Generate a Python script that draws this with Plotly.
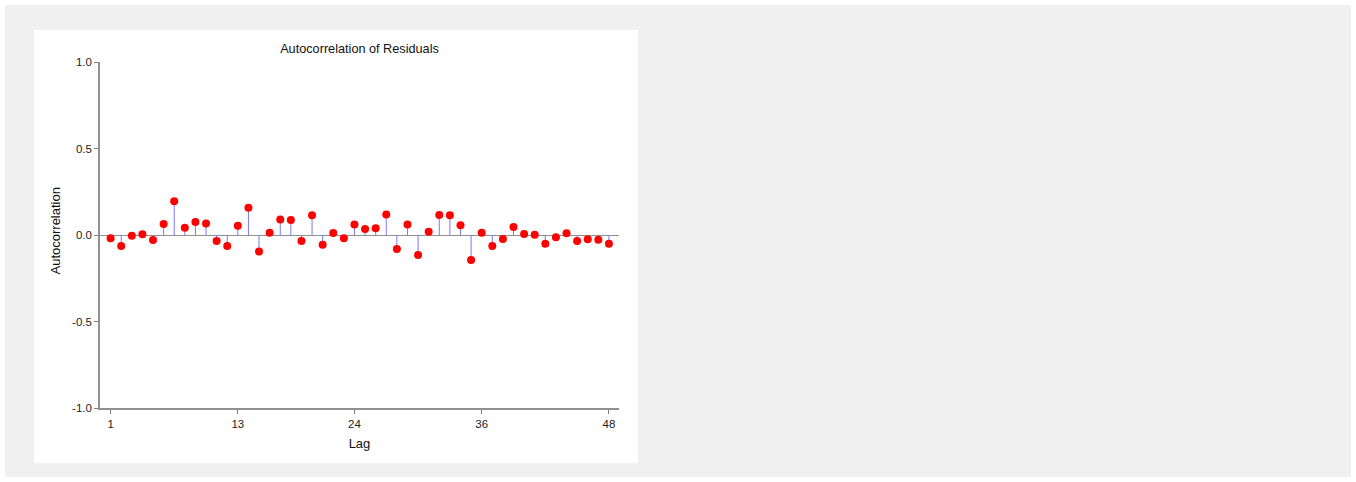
import plotly.graph_objects as go

# Residual autocorrelation by lag
lags = list(range(1, 49))
acf = [
    -0.019, -0.064, -0.004, 0.004, -0.029, 0.064, 0.195, 0.042, 0.075, 0.066,
    -0.035, -0.064, 0.054, 0.158, -0.096, 0.013, 0.089, 0.087, -0.035, 0.114,
    -0.056, 0.012, -0.019, 0.060, 0.035, 0.039, 0.118, -0.081, 0.060, -0.116,
    0.019, 0.115, 0.114, 0.056, -0.145, 0.013, -0.064, -0.023, 0.046, 0.006,
    0.002, -0.050, -0.013, 0.010, -0.035, -0.025, -0.027, -0.050,
]

x_tickvals = [1, 13, 24, 36, 48]
y_tickvals = [-1.0, -0.5, 0.0, 0.5, 1.0]
y_ticktext = ["-1.0", "-0.5", "0.0", "0.5", "1.0"]

# Stem segments: each lag goes from 0 up/down to its value
stem_x, stem_y = [], []
for lag, r in zip(lags, acf):
    stem_x += [lag, lag, None]
    stem_y += [0, r, None]

W, H = 1356, 482
L, R, T, B = 100, 619, 62, 408
pw, ph = R - L, B - T


def px(xp):
    return (xp - L) / pw


def py(yp):
    return (B - yp) / ph


fig = go.Figure()
fig.add_trace(go.Scatter(
    x=stem_x, y=stem_y, mode="lines",
    line=dict(color="#7878ff", width=1),
    hoverinfo="skip", showlegend=False,
))
fig.add_trace(go.Scatter(
    x=lags, y=acf, mode="markers",
    marker=dict(color="#ff0000", size=8, line=dict(width=0)),
    showlegend=False,
))

font = "Liberation Sans, Arial, sans-serif"

fig.update_layout(
    width=W, height=H,
    margin=dict(l=L, r=W - R, t=T, b=H - B, pad=0),
    paper_bgcolor="white",
    plot_bgcolor="rgba(0,0,0,0)",
    font=dict(family=font, size=11.5, color="#222222"),
    title=dict(
        text="Autocorrelation of Residuals",
        font=dict(family=font, size=12.7, color="#111111"),
        xref="paper", x=0.5, xanchor="center",
        yref="container", y=1 - 48.5 / H, yanchor="middle",
    ),
    xaxis=dict(
        range=[0, 48.95],
        tickmode="array", tickvals=x_tickvals,
        ticks="outside", ticklen=4, tickcolor="#808080",
        showline=True, linecolor="#909090", linewidth=1.5,
        showgrid=False, zeroline=False,
        tickfont=dict(size=11.5, color="#222222"),
        title=dict(text="Lag", font=dict(size=13, color="#111111"), standoff=10),
    ),
    yaxis=dict(
        range=[-1, 1],
        tickmode="array", tickvals=y_tickvals, ticktext=y_ticktext,
        ticks="outside", ticklen=4, tickcolor="#808080",
        showline=True, linecolor="#909090", linewidth=1.5,
        showgrid=False,
        zeroline=True, zerolinecolor="#909090", zerolinewidth=1,
        tickfont=dict(size=11.5, color="#222222"),
        showticklabels=True,
    ),
    annotations=[
        dict(text="Autocorrelation", textangle=-90,
             xref="paper", yref="paper", x=px(55), y=py(231.5),
             xanchor="center", yanchor="middle", showarrow=False,
             font=dict(family=font, size=13, color="#111111")),
    ],
    shapes=[
        dict(type="rect", xref="paper", yref="paper", layer="below",
             x0=px(5), x1=px(1351), y0=py(477), y1=py(5),
             fillcolor="#f0f0f0", line=dict(width=0)),
        dict(type="rect", xref="paper", yref="paper", layer="below",
             x0=px(34), x1=px(638), y0=py(463), y1=py(30),
             fillcolor="white", line=dict(width=0)),
    ],
)

fig.write_html("out.html")
